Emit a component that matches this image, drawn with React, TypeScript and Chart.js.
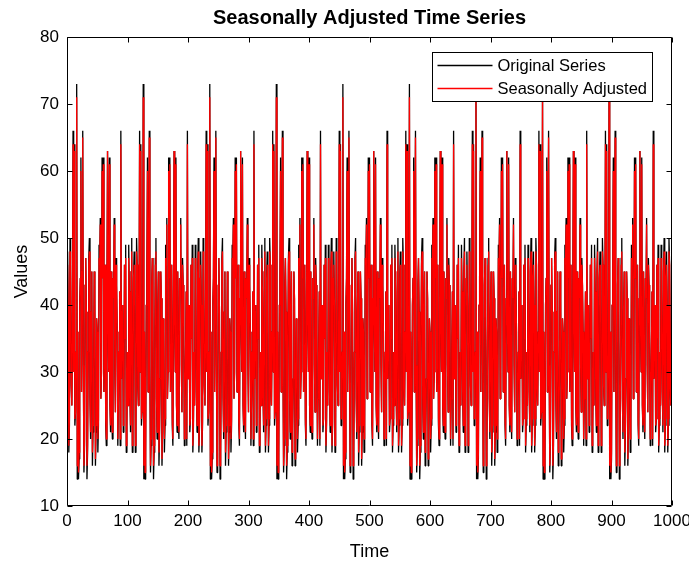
import React, { useEffect, useRef } from "react";
import { Chart, registerables } from "chart.js";

Chart.register(...registerables);

// ---- data: one seasonal cycle of 110 time units ----
const originalCycle = [
  44, 48, 40, 18, 22, 50, 46, 28, 25, 36,
  66, 30, 64, 22, 24, 33, 73, 14, 36, 14,
  17, 40, 44, 62, 27, 45, 66, 31, 15, 19,
  43, 47, 39, 14, 18, 33, 47, 50, 26, 20,
  39, 45, 16, 21, 29, 45, 41, 16, 21, 38,
  36, 18, 22, 49, 46, 53, 26, 30, 62, 44,
  62, 27, 34, 46, 22, 19, 41, 63, 37, 30,
  62, 25, 21, 45, 24, 20, 44, 41, 53, 31,
  24, 47, 43, 36, 19, 26, 33, 42, 19, 66,
  29, 39, 40, 21, 23, 46, 35, 49, 18, 22,
  33, 25, 49, 42, 27, 21, 45, 50, 18, 22,
];
const adjustedCycle = [
  44, 46, 40, 19, 23, 48, 46, 28, 25, 36,
  64, 30, 63, 23, 24, 33, 71, 16, 36, 15,
  18, 40, 44, 60, 27, 45, 65, 31, 16, 20,
  43, 47, 39, 16, 19, 33, 46, 48, 26, 21,
  39, 45, 18, 22, 29, 45, 41, 17, 22, 38,
  36, 20, 23, 47, 46, 52, 26, 30, 60, 44,
  61, 27, 34, 46, 23, 20, 41, 63, 37, 30,
  61, 25, 22, 45, 24, 21, 44, 41, 52, 31,
  24, 46, 43, 36, 20, 26, 33, 42, 20, 64,
  29, 39, 40, 22, 23, 46, 35, 47, 19, 23,
  33, 25, 47, 42, 27, 22, 45, 48, 19, 23,
];
const timeEnd = 1000;
const xTicks = [0, 100, 200, 300, 400, 500, 600, 700, 800, 900, 1000];
const yTicks = [10, 20, 30, 40, 50, 60, 70, 80];
const seriesLabels = ["Original Series", "Seasonally Adjusted"];
const seriesColors = ["#000000", "#ff0000"];
const titleText = "Seasonally Adjusted Time Series";
const xLabel = "Time";
const yLabel = "Values";

const time = Array.from({ length: timeEnd }, (_, i) => i + 1);
const originalSeries = time.map((t) => originalCycle[t % originalCycle.length]);
const adjustedSeries = time.map((t) => adjustedCycle[t % adjustedCycle.length]);

const FONT = '"Liberation Sans", Arial, Helvetica, sans-serif';
const LINE_W = 1.3;

const titlePlugin = {
  id: "customTitle",
  afterDraw(chart: any) {
    const { ctx, chartArea } = chart;
    ctx.save();
    ctx.font = `bold 20px ${FONT}`;
    ctx.fillStyle = "#000";
    ctx.textAlign = "center";
    ctx.textBaseline = "middle";
    ctx.fillText(titleText, (chartArea.left + chartArea.right) / 2, 18);
    ctx.restore();
  },
};

const framePlugin = {
  id: "frame",
  afterDatasetsDraw(chart: any) {
    const { ctx, chartArea: a, scales } = chart;
    const L = Math.round(a.left) + 0.5;
    const R = Math.round(a.right) - 0.5;
    const T = Math.round(a.top) + 0.5;
    const B = Math.round(a.bottom) - 0.5;
    const tl = 5;
    ctx.save();
    ctx.strokeStyle = "#000";
    ctx.lineWidth = 1;
    ctx.beginPath();
    ctx.rect(L, T, R - L, B - T);
    xTicks.forEach((v) => {
      const x = Math.round(scales.x.getPixelForValue(v)) + 0.5;
      ctx.moveTo(x, B);
      ctx.lineTo(x, B - tl);
      ctx.moveTo(x, T);
      ctx.lineTo(x, T + tl);
    });
    yTicks.forEach((v) => {
      const y = Math.round(scales.y.getPixelForValue(v)) + 0.5;
      ctx.moveTo(L, y);
      ctx.lineTo(L + tl, y);
      ctx.moveTo(R, y);
      ctx.lineTo(R - tl, y);
    });
    ctx.stroke();
    ctx.restore();
  },
};

const legendPlugin = {
  id: "boxLegend",
  afterDraw(chart: any) {
    const { ctx } = chart;
    const bx = 432.5, by = 52.5, bw = 220, bh = 49;
    ctx.save();
    ctx.fillStyle = "#fff";
    ctx.fillRect(bx, by, bw, bh);
    ctx.strokeStyle = "#000";
    ctx.lineWidth = 1;
    ctx.strokeRect(bx, by, bw, bh);
    ctx.font = `16.5px ${FONT}`;
    ctx.textAlign = "left";
    ctx.textBaseline = "middle";
    seriesLabels.forEach((label, i) => {
      const y = by + 13 + i * 23;
      ctx.strokeStyle = seriesColors[i];
      ctx.lineWidth = 1.4;
      ctx.beginPath();
      ctx.moveTo(bx + 5, y);
      ctx.lineTo(bx + 60, y);
      ctx.stroke();
      ctx.fillStyle = "#000";
      ctx.fillText(label, bx + 65, y + 1);
    });
    ctx.restore();
  },
};

export default function App() {
  const canvasRef = useRef<HTMLCanvasElement | null>(null);

  useEffect(() => {
    if (!canvasRef.current) return;
    const tickFont = { family: FONT, size: 17 };
    const chart = new Chart(canvasRef.current, {
      type: "line",
      data: {
        datasets: [
          {
            label: seriesLabels[0],
            data: time.map((t, i) => ({ x: t, y: originalSeries[i] })),
            borderColor: seriesColors[0],
            backgroundColor: seriesColors[0],
            borderWidth: LINE_W,
            pointRadius: 0,
            fill: false,
            order: 2,
          },
          {
            label: seriesLabels[1],
            data: time.map((t, i) => ({ x: t, y: adjustedSeries[i] })),
            borderColor: seriesColors[1],
            backgroundColor: seriesColors[1],
            borderWidth: LINE_W,
            pointRadius: 0,
            fill: false,
            order: 1,
          },
        ],
      },
      options: {
        animation: false,
        responsive: false,
        events: [],
        parsing: false,
        normalized: true,
        layout: { padding: { left: 0, right: 17, top: 37, bottom: 0 } },
        elements: {
          point: { radius: 0 },
          line: { tension: 0, borderJoinStyle: "bevel" },
        },
        plugins: {
          legend: { display: false },
          title: { display: false },
          tooltip: { enabled: false },
        },
        scales: {
          x: {
            type: "linear",
            min: 0,
            max: 1000,
            afterBuildTicks: (s: any) => {
              s.ticks = xTicks.map((v) => ({ value: v }));
            },
            ticks: {
              font: tickFont,
              color: "#000",
              padding: 5,
              maxRotation: 0,
              autoSkip: false,
              callback: (v: any) => String(v),
            },
            grid: { display: false, drawTicks: false },
            border: { display: false },
            title: {
              display: true,
              text: xLabel,
              font: { family: FONT, size: 18 },
              color: "#000",
              padding: { top: 0, bottom: 0 },
            },
            afterFit: (s: any) => {
              s.height = 57;
              s.paddingLeft = 0;
              s.paddingRight = 0;
            },
          },
          y: {
            type: "linear",
            min: 10,
            max: 80,
            afterBuildTicks: (s: any) => {
              s.ticks = yTicks.map((v) => ({ value: v }));
            },
            ticks: {
              font: tickFont,
              color: "#000",
              padding: 8,
              autoSkip: false,
              callback: (v: any) => String(v),
            },
            grid: { display: false, drawTicks: false },
            border: { display: false },
            title: {
              display: true,
              text: yLabel,
              font: { family: FONT, size: 18 },
              color: "#000",
              padding: { top: 11, bottom: 0 },
            },
            afterFit: (s: any) => {
              s.width = 67;
              s.paddingTop = 0;
              s.paddingBottom = 0;
            },
          },
        },
      } as any,
      plugins: [framePlugin, legendPlugin, titlePlugin],
    });
    return () => chart.destroy();
  }, []);

  return (
    <div style={{ position: "fixed", left: 0, top: 0, width: 689, height: 563, background: "#fff" }}>
      <canvas ref={canvasRef} width={689} height={563} />
    </div>
  );
}
